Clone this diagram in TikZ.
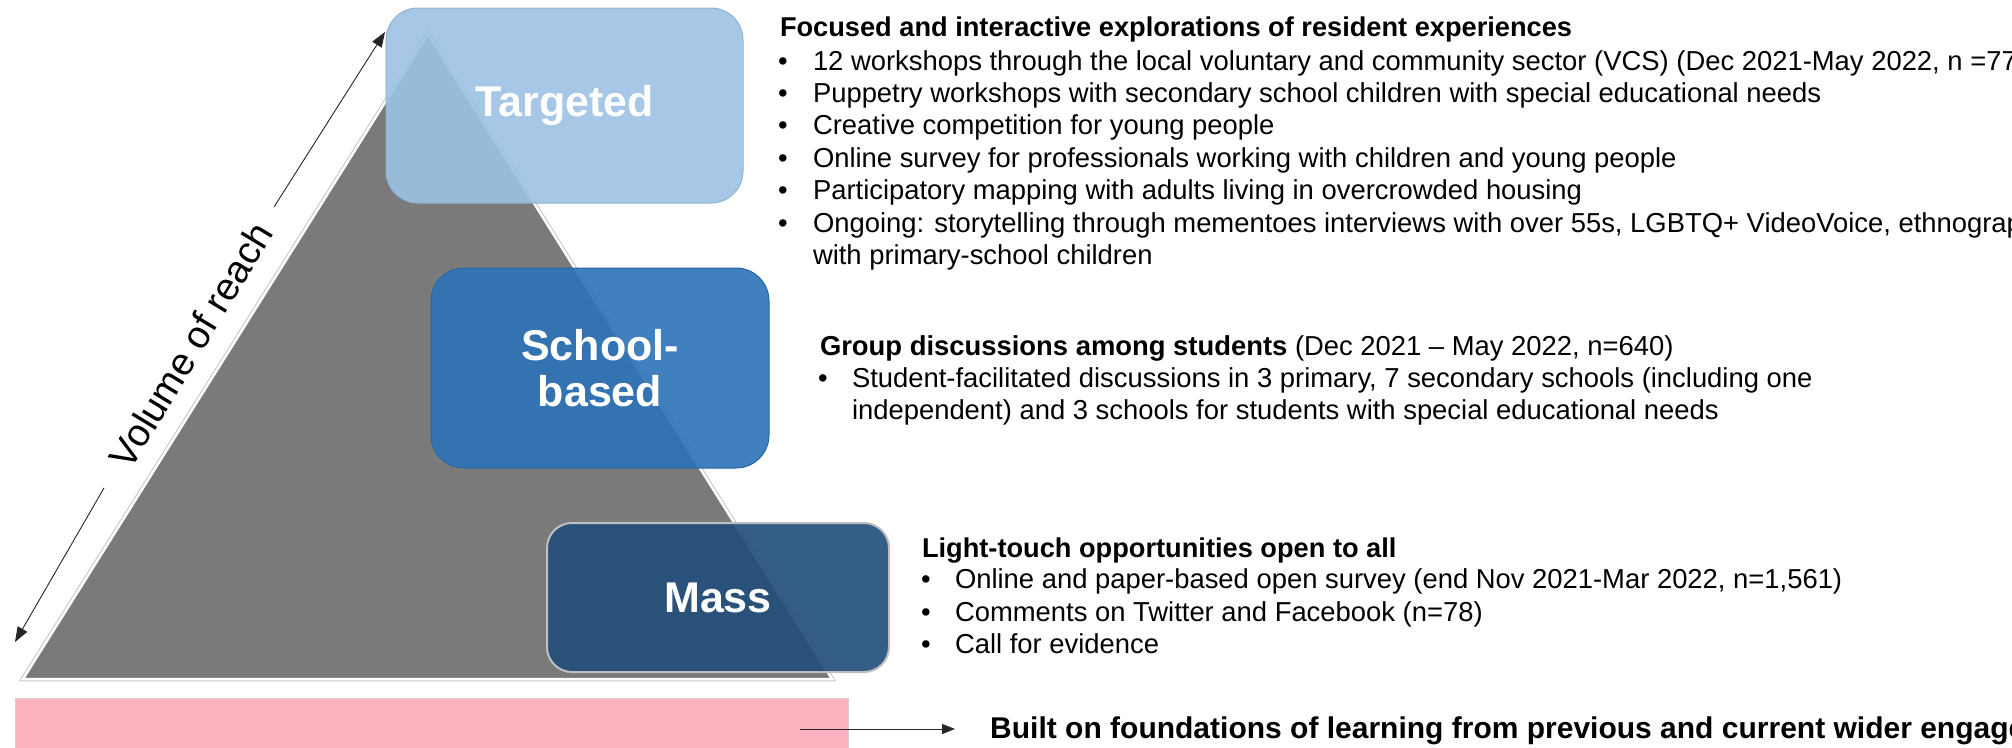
\documentclass[tikz,border=0pt]{standalone}
\usepackage{fontspec}
\setmainfont{Liberation Sans}
\usetikzlibrary{arrows.meta}
\definecolor{tri}{RGB}{122,122,122}
\definecolor{tgt}{RGB}{157,194,228}
\definecolor{sch}{RGB}{46,115,184}
\definecolor{mas}{RGB}{33,78,122}
\definecolor{pinkbar}{RGB}{255,178,192}
\tikzset{
  tier/.style={rounded corners=#1, inner sep=0pt, outer sep=0pt, align=center,
    text=white, font=\fontsize{43}{46}\selectfont\bfseries,
    fill opacity=0.91, text opacity=1},
  body/.style={anchor=base west, inner sep=0pt, outer sep=0pt, font=\fontsize{27.4}{32}\selectfont},
  head/.style={body, font=\fontsize{27.2}{32}\selectfont\bfseries},
  thinarrow/.style={-{Triangle[length=15pt,width=11pt]}, line width=0.9pt, draw=black!85},
}
\begin{document}
\begin{tikzpicture}[x=1pt,y=-1pt]
\useasboundingbox (0,0) rectangle (2012,747);
\begin{scope}
\clip (0,0) rectangle (2012,747);
% pyramid
\coordinate (ta) at (428,34);
\coordinate (tl) at (23,679);
\coordinate (tr) at (832,679);
\draw[black!22, line width=4.5pt] (ta) -- (tl) -- (tr) -- cycle;
\filldraw[fill=tri, draw=white, line width=2.5pt] (ta) -- (tl) -- (tr) -- cycle;
% foundation bar
\fill[pinkbar, draw=black!18, line width=1pt] (15,698) rectangle (848,770);
\node[anchor=north west, inner sep=0pt] (found) at (15,698) {};
% tier boxes
\node[tier=32, fill=tgt, draw=tgt!92!black, line width=1pt,
      minimum width=357pt, minimum height=195pt] (targeted) at (564.5,105.5) {Targeted};
\node[tier=33, fill=sch, draw=sch!90!black, line width=1pt,
      minimum width=338pt, minimum height=200pt] (school) at (600,368) {School-\\based};
\node[tier=25, fill=mas, draw=black!25, line width=2pt,
      minimum width=342pt, minimum height=149pt] (mass) at (718,597.5) {Mass};
% volume of reach arrow
\coordinate (vt) at (385,32);
\coordinate (vb) at (15,642);
\coordinate (vg1) at (274,207);
\coordinate (vg2) at (104,488);
\draw[thinarrow] (vg1) -- (vt);
\draw[thinarrow] (vg2) -- (vb);
\node[rotate=58.8, anchor=center, inner sep=0pt, font=\fontsize{38.5}{42}\selectfont] (vol) at (191,345) {Volume of reach};
% targeted text
\node[head] (h1) at (780,36) {Focused and interactive explorations of resident experiences};
\node[body] (b1a) at (778,70) {•};
\node[body] (t1a) at (813,70) {12 workshops through the local voluntary and community sector (VCS) (Dec 2021-May 2022, n =77)};
\node[body] (b1b) at (778,102) {•};
\node[body] (t1b) at (813,102) {Puppetry workshops with secondary school children with special educational needs};
\node[body] (b1c) at (778,134) {•};
\node[body] (t1c) at (813,134) {Creative competition for young people};
\node[body] (b1d) at (778,167) {•};
\node[body] (t1d) at (813,167) {Online survey for professionals working with children and young people};
\node[body] (b1e) at (778,199) {•};
\node[body] (t1e) at (813,199) {Participatory mapping with adults living in overcrowded housing};
\node[body] (b1f) at (778,232) {•};
\node[body] (t1f) at (813,232) {Ongoing: storytelling through mementoes interviews with over 55s, LGBTQ+ VideoVoice, ethnography};
\node[body] (t1g) at (813,264) {with primary-school children};
% school text
\node[body] (h2) at (820,355) {\textbf{Group discussions among students} (Dec 2021 – May 2022, n=640)};
\node[body] (b2a) at (818,387) {•};
\node[body] (t2a) at (852,387) {Student-facilitated discussions in 3 primary, 7 secondary schools (including one};
\node[body] (t2b) at (852,419) {independent) and 3 schools for students with special educational needs};
% mass text
\node[head] (h3) at (922,557) {Light-touch opportunities open to all};
\node[body] (b3a) at (921,588) {•};
\node[body] (t3a) at (955,588) {Online and paper-based open survey (end Nov 2021-Mar 2022, n=1,561)};
\node[body] (b3b) at (921,621) {•};
\node[body] (t3b) at (955,621) {Comments on Twitter and Facebook (n=78)};
\node[body] (b3c) at (921,653) {•};
\node[body] (t3c) at (955,653) {Call for evidence};
% foundation arrow and text
\coordinate (fa1) at (800,729);
\coordinate (fa2) at (955,729);
\draw[-{Triangle[length=13pt,width=10pt]}, line width=1pt, draw=black!85] (fa1) -- (fa2);
\node[anchor=base west, inner sep=0pt, font=\fontsize{30}{34}\selectfont\bfseries] (built) at (990,738) {Built on foundations of learning from previous and current wider engagement};
\end{scope}
\end{tikzpicture}
\end{document}
